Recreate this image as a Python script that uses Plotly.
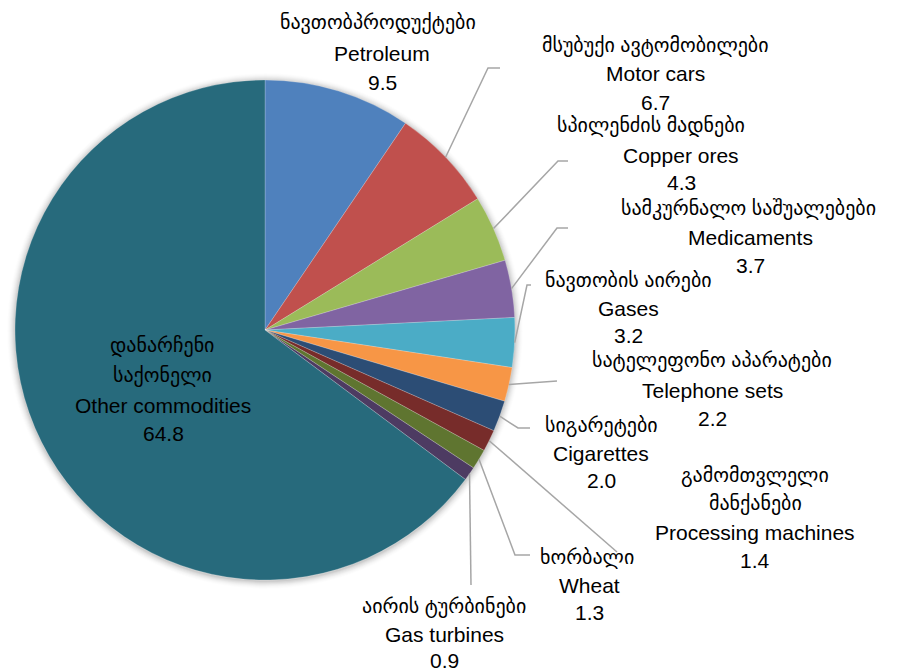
import math
import plotly.graph_objects as go

# ---------------- data ----------------
labels_ka = ["ნავთობპროდუქტები", "მსუბუქი ავტომობილები", "სპილენძის მადნები",
             "სამკურნალო საშუალებები", "ნავთობის აირები", "სატელეფონო აპარატები",
             "სიგარეტები", "გამომთვლელი<br>მანქანები", "ხორბალი", "აირის ტურბინები",
             "დანარჩენი<br>საქონელი"]
labels_en = ["Petroleum", "Motor cars", "Copper ores", "Medicaments", "Gases",
             "Telephone sets", "Cigarettes", "Processing machines", "Wheat",
             "Gas turbines", "Other commodities"]
values = [9.5, 6.7, 4.3, 3.7, 3.2, 2.2, 2.0, 1.4, 1.3, 0.9, 64.8]

# ---------------- styling / layout ----------------
colors = ["#4F81BD", "#C0504D", "#9BBB59", "#8064A2", "#4BACC6", "#F79646",
          "#2C4D75", "#772C2A", "#5F7530", "#4D3B62", "#276A7C"]
W, H = 901, 672
CX, CY, R = 265, 330, 250

# label anchor (x of centre) and y of each text line, in pixels
label_x = [382, 655, 681, 750, 628, 712, 601, 755, 589, 444, 163]
label_ka_dx = [-4, 0, -30, -2, 0, 0, 0, 0, -2, 0, -1]
label_ys = [[22, 53, 82], [45, 73, 102], [125, 155, 182], [208, 237, 265],
            [280, 308, 335], [360, 390, 418], [425, 453, 480],
            [475, 503, 532, 560], [557, 585, 612], [606, 634, 660],
            [345, 375, 405, 433]]
# leader line bend points after the start on the slice edge
leader_pts = [None, [(488, 68), (500, 68)], [(558, 161), (568, 161)],
              [(557, 228), (568, 228)], [(527, 285), (531, 285)],
              [(557, 381)], [(518, 428), (530, 428)], [(617, 552)],
              [(515, 555), (530, 555)], [(471, 585)], None]

FONT = "Liberation Sans, Arial, DejaVu Sans, sans-serif"
FS_EN = 21
FS_KA = 20

fig = go.Figure()
fig.add_trace(go.Pie(
    labels=labels_en, values=values, sort=False, direction="clockwise",
    rotation=0, marker=dict(colors=colors, line=dict(color="rgba(255,255,255,0.35)", width=0.6)),
    textinfo="none", hoverinfo="label+value", showlegend=False,
    domain=dict(x=[(CX - R) / W, (CX + R) / W], y=[(H - CY - R) / H, (H - CY + R) / H]),
))

shapes = []
# soft shadow rings
for k in range(1, 9):
    shapes.append(dict(type="circle", xref="x", yref="y", layer="below",
                       x0=CX - R - k, x1=CX + R + k, y0=CY - R - k + 1, y1=CY + R + k + 1,
                       line=dict(width=0), fillcolor="rgba(0,0,0,%.3f)" % (0.05 * (1 - k / 9))))

total = sum(values)
cum = 0.0
annotations = []
for i, v in enumerate(values):
    mid = (cum + v / 2) / total * 2 * math.pi
    cum += v
    sx = CX + R * math.sin(mid)
    sy = CY - R * math.cos(mid)
    if leader_pts[i]:
        pts = [(sx, sy)] + leader_pts[i]
        path = "M %.1f %.1f " % pts[0] + " ".join("L %.1f %.1f" % p for p in pts[1:])
        shapes.append(dict(type="path", xref="x", yref="y", path=path, layer="above",
                           line=dict(color="#A6A6A6", width=1.5)))
    ka_lines = labels_ka[i].split("<br>")
    lines = ka_lines + [labels_en[i], "%.1f" % v]
    nka = len(ka_lines)
    for j, (txt, y) in enumerate(zip(lines, label_ys[i])):
        x = label_x[i] + (label_ka_dx[i] if j < nka else 0)
        annotations.append(dict(x=x, y=y, xref="x", yref="y", text=txt, showarrow=False,
                                xanchor="center", yanchor="middle",
                                font=dict(family=FONT, size=FS_KA if j < nka else FS_EN,
                                          color="#000000")))

fig.update_layout(
    width=W, height=H, margin=dict(l=0, r=0, t=0, b=0),
    paper_bgcolor="white", plot_bgcolor="rgba(0,0,0,0)",
    xaxis=dict(range=[0, W], visible=False, fixedrange=True),
    yaxis=dict(range=[H, 0], visible=False, fixedrange=True),
    shapes=shapes, annotations=annotations, showlegend=False,
)

fig.write_html("out.html", config={"displayModeBar": False},
               post_script="document.body.style.margin='0';")
